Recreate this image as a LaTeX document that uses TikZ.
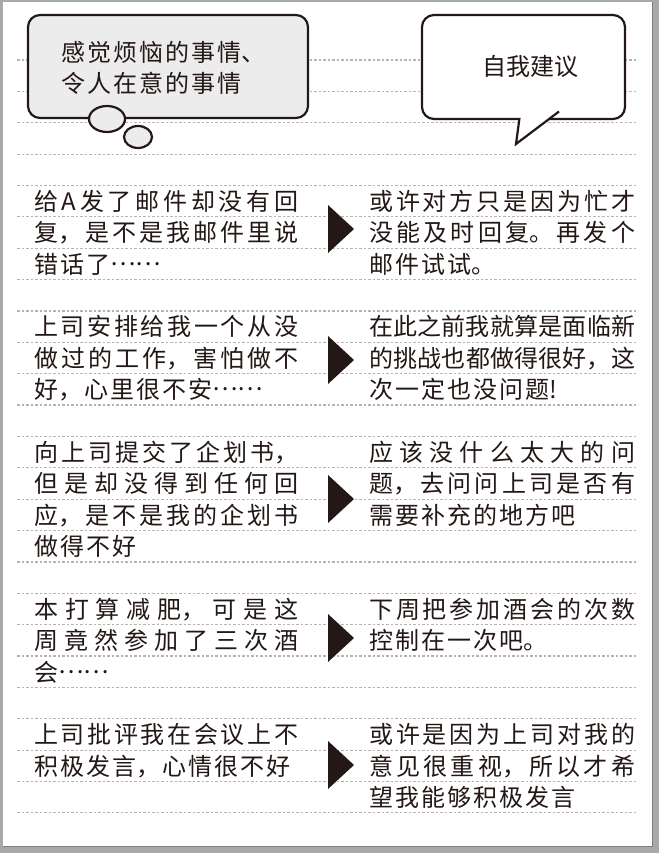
\documentclass[tikz,border=0pt]{standalone}
\usepackage{fontspec}
\usepackage{tikz}
\newfontfamily\cjk{Noto Sans CJK SC}
\definecolor{ink}{HTML}{231815}
\definecolor{ruling}{HTML}{B4B4B4}
\definecolor{bubblegray}{HTML}{ECECEC}
\definecolor{framegray}{HTML}{A8A8A8}
% CJK text: size, line pitch and glue between the characters
\newcommand{\cjkfont}{\cjk\fontsize{24}{31.37}\selectfont
  \XeTeXlinebreaklocale "zh"\XeTeXlinebreakskip=2pt plus 8pt minus 2pt\relax}
\newcommand{\para}{\parindent=0pt\parskip=0pt\tolerance=9999\hbadness=10000\relax\strut}
\newcommand{\midellipsis}{\raisebox{8pt}{……}}

\begin{document}
\begin{tikzpicture}[x=1pt,y=-1pt,
  ruled/.style={ruling,line width=1.2pt,dash pattern=on 2.5pt off 2pt},
  box/.style={draw=ink,line width=2.2pt,rounded corners=12pt},
  words/.style={anchor=north west,inner sep=0pt,align=justify,text=ink,font=\cjkfont}]
  \useasboundingbox (0,0) rectangle (659,853);
  % page
  \fill[framegray] (0,0) rectangle (659,853);
  \fill[white] (2.5,2.5) rectangle (652.5,846.5);
  \draw[gray,line width=0.8pt] (652.5,2.5) -- (652.5,846.5) -- (2.5,846.5);
  % ruled lines
  \foreach \k in {0,...,24}
    \draw[ruled] (17,{60+31.37*\k}) -- (638,{60+31.37*\k});

  % heading bubbles
  \node[box,fill=bubblegray,minimum width=280pt,minimum height=103pt] (worryhead) at (168,66.5) {};
  \draw[ink,line width=2.2pt,fill=bubblegray] (107,119) ellipse [x radius=18,y radius=13];
  \draw[ink,line width=2.2pt,fill=bubblegray] (138,137) ellipse [x radius=14,y radius=11];
  \node[words,text width=230pt] (worrytext) at (61,39) {\para 感觉烦恼的事情、\par\para 令人在意的事情};

  \node[box,fill=white,minimum width=203pt,minimum height=104pt] (advicehead) at (523.5,67) {};
  \fill[white] (519.5,113) -- (516,144) -- (559,111.5) -- cycle;
  \draw[ink,line width=2.2pt,line join=miter] (519.5,118) -- (516,144) -- (559,111.5);
  \node[text=ink,font=\cjkfont,inner sep=0pt] (advicetext) at (530,66) {自我建议};

  % worries
  \node[words,text width=264pt] (w1) at (34,188.3) {\para 给A发了邮件却没有回\linebreak 复，是不是我邮件里说\linebreak 错话了\midellipsis};
  \node[words,text width=264pt] (w2) at (34,313.8) {\para 上司安排给我一个从没\linebreak 做过的工作，害怕做不\linebreak 好，心里很不安\midellipsis};
  \node[words,text width=264pt] (w3) at (34,439.3) {\para 向上司提交了企划书，\linebreak 但是却没得到任何回\linebreak 应，是不是我的企划书\linebreak 做得不好};
  \node[words,text width=264pt] (w4) at (34,596.1) {\para 本打算减肥，可是这\linebreak 周竟然参加了三次酒\linebreak 会\midellipsis};
  \node[words,text width=264pt] (w5) at (34,721.6) {\para 上司批评我在会议上不\linebreak 积极发言，心情很不好};

  % advice
  \node[words,text width=266pt] (a1) at (369,188.3) {\para 或许对方只是因为忙才\linebreak 没能及时回复。再发个\linebreak 邮件试试。};
  \node[words,text width=266pt] (a2) at (369,313.8) {\para 在此之前我就算是面临新\linebreak 的挑战也都做得很好，这\linebreak 次一定也没问题!};
  \node[words,text width=266pt] (a3) at (369,439.3) {\para 应该没什么太大的问\linebreak 题，去问问上司是否有\linebreak 需要补充的地方吧};
  \node[words,text width=266pt] (a4) at (369,596.1) {\para 下周把参加酒会的次数\linebreak 控制在一次吧。};
  \node[words,text width=266pt] (a5) at (369,721.6) {\para 或许是因为上司对我的\linebreak 意见很重视，所以才希\linebreak 望我能够积极发言};

  % pointers
  \foreach \yc in {229,360,499,638,765}
    \fill[ink] (328,{\yc-24}) -- (354,\yc) -- (328,{\yc+24}) -- cycle;
\end{tikzpicture}
\end{document}
